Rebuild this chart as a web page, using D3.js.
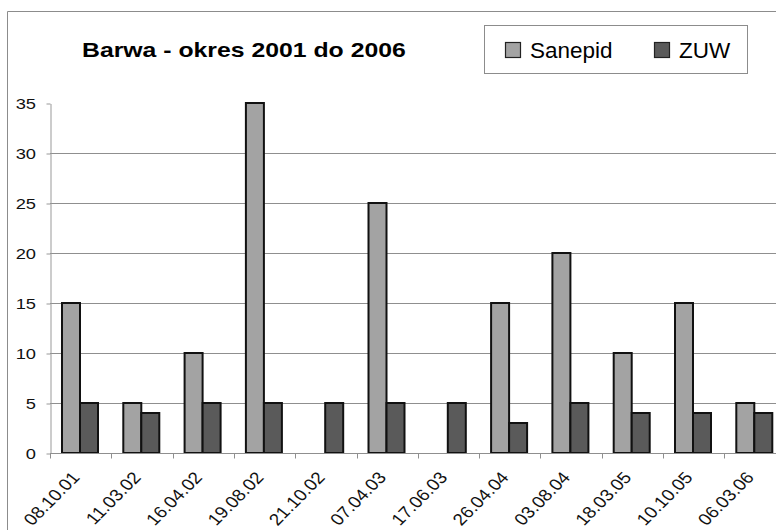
<!DOCTYPE html>
<html>
<head>
<meta charset="utf-8">
<script src="https://cdn.jsdelivr.net/npm/d3@7"></script>
<style>
  html, body { margin: 0; padding: 0; background: #fff; }
  svg { display: block; font-family: Arial, "Liberation Sans", sans-serif; }
</style>
</head>
<body>
<svg id="chart" width="776" height="530"></svg>
<script>
// Sampling dates (dd.mm.yy)
const categories = ["08.10.01", "11.03.02", "16.04.02", "19.08.02", "21.10.02", "07.04.03",
                    "17.06.03", "26.04.04", "03.08.04", "18.03.05", "10.10.05", "06.03.06"];
// Colour readings per source; null = no measurement
const sanepid = [15, 5, 10, 35, null, 25, null, 15, 20, 10, 15, 5];
const zuw     = [5, 4, 5, 5, 5, 5, 5, 3, 5, 4, 4, 4];
const seriesNames = ["Sanepid", "ZUW"];
const yTicks = [0, 5, 10, 15, 20, 25, 30, 35];
const titleText = "Barwa - okres 2001 do 2006";

const colors = { Sanepid: "#a3a3a3", ZUW: "#5a5a5a" };
const svg = d3.select("#chart");

// Outer chart frame (extends past the right/bottom edge)
svg.append("path")
  .attr("d", "M7.5,560 V11.5 H800")
  .attr("fill", "none").attr("stroke", "#8c8c8c").attr("stroke-width", 1);

const plotLeft = 50, plotBottom = 453, plotTop = 103, step = 61.3;

const x = d3.scaleBand().domain(categories)
  .range([plotLeft, plotLeft + step * categories.length]).padding(0);
const xs = d3.scaleBand().domain(seriesNames).range([12, 48]).padding(0);
const y = d3.scaleLinear().domain([0, 35]).range([plotBottom, plotTop]);

// Horizontal gridlines
svg.append("g").selectAll("line")
  .data(yTicks.filter(v => v > 0 && v < 35))
  .join("line")
  .attr("x1", plotLeft).attr("x2", 800)
  .attr("y1", d => Math.round(y(d)) + 0.5).attr("y2", d => Math.round(y(d)) + 0.5)
  .attr("stroke", "#8f8f8f").attr("stroke-width", 1);

// Y axis
const yAxis = svg.append("g")
  .attr("transform", `translate(${plotLeft + 0.5},0.5)`)
  .call(d3.axisLeft(y).tickValues(yTicks).tickSize(4).tickSizeOuter(0).tickFormat(d3.format("d")));
yAxis.select(".domain").attr("stroke", "#999");
yAxis.selectAll(".tick line").attr("stroke", "#999");
yAxis.selectAll(".tick text").remove();

// Y tick labels (slightly widened glyphs)
svg.append("g").selectAll("text")
  .data(yTicks).join("text")
  .attr("transform", d => `translate(36,${y(d)}) scale(1.18,1)`)
  .attr("text-anchor", "end").attr("dy", "0.36em")
  .attr("font-size", 15.5).attr("fill", "#111")
  .text(d => d);

// Bars
const groups = svg.append("g").selectAll("g")
  .data(categories.map((c, i) => ({ c, vals: [
    { key: "Sanepid", v: sanepid[i] }, { key: "ZUW", v: zuw[i] }] })))
  .join("g")
  .attr("transform", d => `translate(${x(d.c)},0)`);

groups.selectAll("rect")
  .data(d => d.vals.filter(e => e.v !== null && e.v > 0))
  .join("rect")
  .attr("x", d => xs(d.key))
  .attr("width", xs.bandwidth())
  .attr("y", d => y(d.v))
  .attr("height", d => y(0) - y(d.v))
  .attr("fill", d => colors[d.key])
  .attr("stroke", "#111").attr("stroke-width", 2);

// X axis
const xAxis = svg.append("g")
  .attr("transform", `translate(0,${plotBottom + 0.5})`);
xAxis.append("line")
  .attr("x1", plotLeft).attr("x2", 800)
  .attr("stroke", "#8f8f8f");
xAxis.selectAll("line.tk")
  .data(categories.map((c, i) => i))
  .join("line").attr("class", "tk")
  .attr("x1", i => Math.round(plotLeft + i * step) + 0.5)
  .attr("x2", i => Math.round(plotLeft + i * step) + 0.5)
  .attr("y1", 0).attr("y2", 5)
  .attr("stroke", "#8f8f8f");

// Rotated category labels (45° on screen after the horizontal widening)
svg.append("g").selectAll("text")
  .data(categories).join("text")
  .attr("transform", d => `translate(${x(d) + x.bandwidth() / 2},478) scale(1.15,1) rotate(-49)`)
  .attr("text-anchor", "end")
  .attr("font-size", 16.5).attr("fill", "#111")
  .text(d => d);

// Title
svg.append("text")
  .attr("transform", "translate(82,57) scale(1.24,1)")
  .attr("font-size", 20).attr("font-weight", "bold").attr("fill", "#000")
  .text(titleText);

// Legend
const legend = svg.append("g");
legend.append("rect")
  .attr("x", 484.5).attr("y", 25.5).attr("width", 263).attr("height", 48)
  .attr("fill", "#fff").attr("stroke", "#8c8c8c");
const legendX = { Sanepid: 505, ZUW: 654 };
const items = legend.selectAll("g.item").data(seriesNames).join("g").attr("class", "item")
  .attr("transform", d => `translate(${legendX[d]},0)`);
items.append("rect")
  .attr("x", 0.5).attr("y", 42.5).attr("width", 15).attr("height", 15)
  .attr("fill", d => colors[d]).attr("stroke", "#222").attr("stroke-width", 1.2);
items.append("text")
  .attr("x", 25).attr("y", 57.5)
  .attr("font-size", 22.5).attr("fill", "#000")
  .text(d => d);
</script>
</body>
</html>
